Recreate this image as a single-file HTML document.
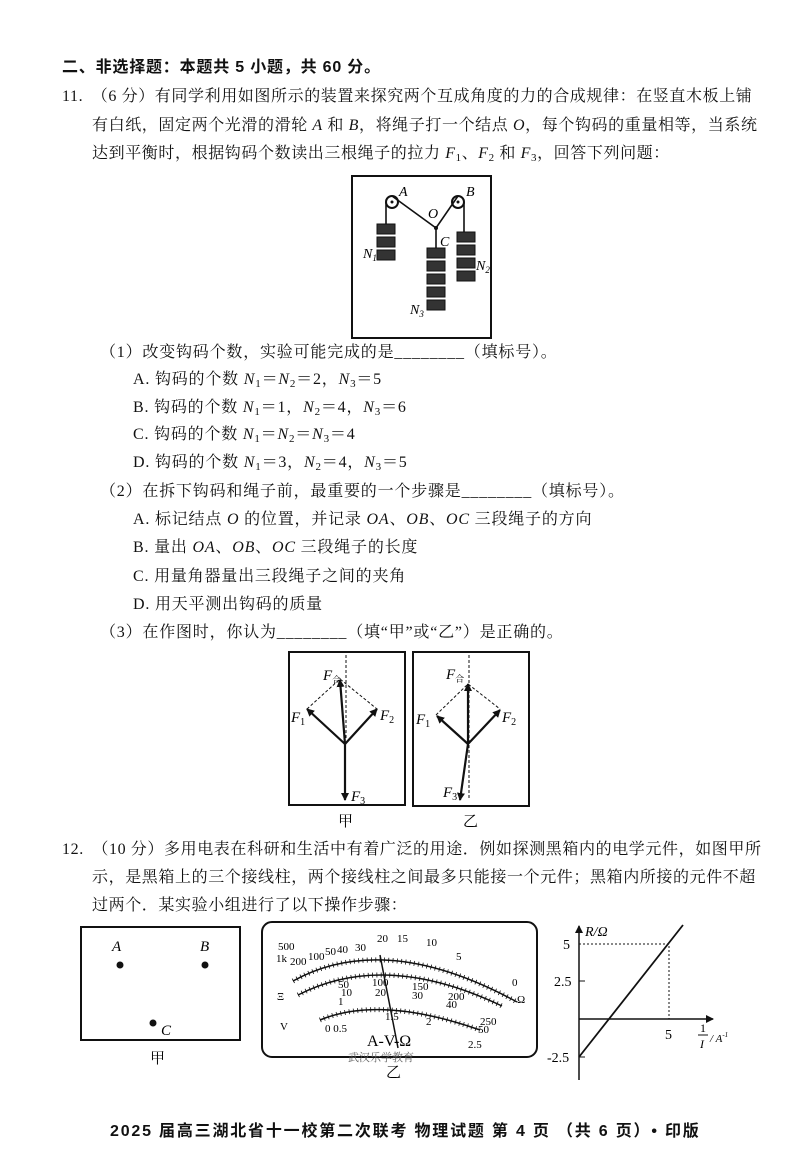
<!DOCTYPE html>
<html><head><meta charset="utf-8"><style>
body{margin:0;background:#fff;}
#p{position:relative;width:800px;height:1165px;overflow:hidden;background:#fff;font-family:"Liberation Serif","Noto Serif CJK SC","Noto Sans CJK SC",serif;color:#111;}
.t{position:absolute;font-size:16px;line-height:20px;white-space:nowrap;letter-spacing:0.8px;}
.w{letter-spacing:0.6px;}
.b{font-weight:bold;font-family:"Liberation Sans","Noto Sans CJK SC",sans-serif;}
i{font-style:italic;}
sub{font-size:11px;vertical-align:-3px;line-height:0;}
svg{position:absolute;left:0;top:0;}
</style></head><body><div id="p">
<div class="t b" style="left:62px;top:58px;">二、非选择题：本题共 5 小题，共 60 分。</div>
<div class="t w" style="left:62px;top:87px;">11.　（6 分）有同学利用如图所示的装置来探究两个互成角度的力的合成规律：在竖直木板上铺</div>
<div class="t w" style="left:92px;top:116px;">有白纸，固定两个光滑的滑轮 <i>A</i> 和 <i>B</i>，将绳子打一个结点 <i>O</i>，每个钩码的重量相等，当系统</div>
<div class="t w" style="left:92px;top:144px;">达到平衡时，根据钩码个数读出三根绳子的拉力 <i>F</i><sub>1</sub>、<i>F</i><sub>2</sub> 和 <i>F</i><sub>3</sub>，回答下列问题：</div>
<div class="t" style="left:100px;top:343px;">（1）改变钩码个数，实验可能完成的是________（填标号）。</div>
<div class="t" style="left:133px;top:370px;">A. 钩码的个数 <i>N</i><sub>1</sub>＝<i>N</i><sub>2</sub>＝2，<i>N</i><sub>3</sub>＝5</div>
<div class="t" style="left:133px;top:398px;">B. 钩码的个数 <i>N</i><sub>1</sub>＝1，<i>N</i><sub>2</sub>＝4，<i>N</i><sub>3</sub>＝6</div>
<div class="t" style="left:133px;top:425px;">C. 钩码的个数 <i>N</i><sub>1</sub>＝<i>N</i><sub>2</sub>＝<i>N</i><sub>3</sub>＝4</div>
<div class="t" style="left:133px;top:453px;">D. 钩码的个数 <i>N</i><sub>1</sub>＝3，<i>N</i><sub>2</sub>＝4，<i>N</i><sub>3</sub>＝5</div>
<div class="t" style="left:100px;top:482px;">（2）在拆下钩码和绳子前，最重要的一个步骤是________（填标号）。</div>
<div class="t" style="left:133px;top:510px;">A. 标记结点 <i>O</i> 的位置，并记录 <i>OA</i>、<i>OB</i>、<i>OC</i> 三段绳子的方向</div>
<div class="t" style="left:133px;top:538px;">B. 量出 <i>OA</i>、<i>OB</i>、<i>OC</i> 三段绳子的长度</div>
<div class="t" style="left:133px;top:567px;">C. 用量角器量出三段绳子之间的夹角</div>
<div class="t" style="left:133px;top:595px;">D. 用天平测出钩码的质量</div>
<div class="t" style="left:100px;top:623px;">（3）在作图时，你认为________（填“甲”或“乙”）是正确的。</div>
<div class="t w" style="left:62px;top:840px;">12.　（10 分）多用电表在科研和生活中有着广泛的用途．例如探测黑箱内的电学元件，如图甲所</div>
<div class="t w" style="left:92px;top:868px;">示，是黑箱上的三个接线柱，两个接线柱之间最多只能接一个元件；黑箱内所接的元件不超</div>
<div class="t w" style="left:92px;top:896px;">过两个．某实验小组进行了以下操作步骤：</div>
<div class="t b" style="left:110px;top:1122px;font-size:16px;letter-spacing:1.8px;">2025 届高三湖北省十一校第二次联考 物理试题 第 4 页 （共 6 页）• 印版</div>

<svg width="800" height="1165" viewBox="0 0 800 1165" font-family="Liberation Serif, Noto Serif CJK SC, serif">
<defs><marker id="ar" markerWidth="8" markerHeight="8" refX="7" refY="4" orient="auto" markerUnits="userSpaceOnUse"><path d="M0,0 L8,4 L0,8 Z" fill="#111"/></marker></defs>
<rect x="352" y="176" width="139" height="162" fill="none" stroke="#111" stroke-width="2"/>
<circle cx="392" cy="202" r="6" fill="none" stroke="#111" stroke-width="2"/><circle cx="392" cy="202" r="1.5" fill="#111"/>
<circle cx="458" cy="202" r="6" fill="none" stroke="#111" stroke-width="2"/><circle cx="458" cy="202" r="1.5" fill="#111"/>
<path d="M392,196 L436,228 L458,196 M386,202 V224 M464,202 V232 M436,228 V248" stroke="#111" stroke-width="1.6" fill="none"/>
<circle cx="436" cy="228" r="2" fill="#111"/>
<g fill="#333" stroke="#111">
<rect x="377" y="224" width="18" height="10"/><rect x="377" y="237" width="18" height="10"/><rect x="377" y="250" width="18" height="10"/>
<rect x="457" y="232" width="18" height="10"/><rect x="457" y="245" width="18" height="10"/><rect x="457" y="258" width="18" height="10"/><rect x="457" y="271" width="18" height="10"/>
<rect x="427" y="248" width="18" height="10"/><rect x="427" y="261" width="18" height="10"/><rect x="427" y="274" width="18" height="10"/><rect x="427" y="287" width="18" height="10"/><rect x="427" y="300" width="18" height="10"/>
</g>
<g font-style="italic" font-size="14">
<text x="399" y="196">A</text><text x="466" y="196">B</text><text x="428" y="218">O</text><text x="440" y="246">C</text>
<text x="363" y="258">N<tspan font-size="9" dy="3">1</tspan></text>
<text x="476" y="270">N<tspan font-size="9" dy="3">2</tspan></text>
<text x="410" y="314">N<tspan font-size="9" dy="3">3</tspan></text>
</g>
<rect x="289" y="652" width="116" height="153" fill="none" stroke="#111" stroke-width="2"/>
<rect x="413" y="652" width="116" height="154" fill="none" stroke="#111" stroke-width="2"/>
<g stroke="#111" stroke-dasharray="3,2" stroke-width="1" fill="none">
<path d="M346,655 V740 M307,709 L340,679 L377,709"/>
<path d="M469,655 V800 M436,715 L468,684 L500,709"/>
</g>
<g stroke="#111" stroke-width="2.2" marker-end="url(#ar)">
<line x1="345" y1="744" x2="307" y2="709"/><line x1="345" y1="744" x2="377" y2="709"/>
<line x1="345" y1="744" x2="340" y2="680"/><line x1="345" y1="744" x2="345" y2="800"/>
<line x1="468" y1="744" x2="437" y2="716"/><line x1="468" y1="744" x2="500" y2="710"/>
<line x1="468" y1="744" x2="468" y2="684"/><line x1="468" y1="744" x2="460" y2="800"/>
</g>
<g font-style="italic" font-size="15">
<text x="323" y="680">F<tspan font-size="9" font-style="normal" dy="3">合</tspan></text>
<text x="291" y="722">F<tspan font-size="10" font-style="normal" dy="3">1</tspan></text>
<text x="380" y="720">F<tspan font-size="10" font-style="normal" dy="3">2</tspan></text>
<text x="351" y="801">F<tspan font-size="10" font-style="normal" dy="3">3</tspan></text>
<text x="446" y="679">F<tspan font-size="9" font-style="normal" dy="3">合</tspan></text>
<text x="416" y="724">F<tspan font-size="10" font-style="normal" dy="3">1</tspan></text>
<text x="502" y="722">F<tspan font-size="10" font-style="normal" dy="3">2</tspan></text>
<text x="443" y="797">F<tspan font-size="10" font-style="normal" dy="3">3</tspan></text>
</g>
<text x="338" y="826" font-size="15">甲</text><text x="463" y="826" font-size="15">乙</text>
<rect x="81" y="927" width="159" height="113" fill="none" stroke="#111" stroke-width="2"/>
<g font-style="italic" font-size="15"><text x="112" y="951">A</text><text x="200" y="951">B</text><text x="161" y="1035">C</text></g>
<circle cx="120" cy="965" r="3.5" fill="#111"/><circle cx="205" cy="965" r="3.5" fill="#111"/><circle cx="153" cy="1023" r="3.5" fill="#111"/>
<text x="150" y="1063" font-size="15">甲</text>
<rect x="262" y="922" width="275" height="135" rx="10" fill="none" stroke="#111" stroke-width="2"/>
<path d="M293,981 Q385,930 517,1002" fill="none" stroke="#111" stroke-width="1.5"/>
<path d="M298,995 Q385,950 502,1006" fill="none" stroke="#111" stroke-width="1.5"/>
<path d="M320,1020 Q380,995 480,1030" fill="none" stroke="#111" stroke-width="1.5"/>
<path d="M293,981 Q385,930 517,1002" fill="none" stroke="#111" stroke-width="5" stroke-dasharray="0.8,3.5"/>
<path d="M298,995 Q385,950 502,1006" fill="none" stroke="#111" stroke-width="5" stroke-dasharray="0.8,3.5"/>
<path d="M320,1020 Q380,995 480,1030" fill="none" stroke="#111" stroke-width="5" stroke-dasharray="0.8,3.5"/>
<line x1="380" y1="955" x2="398" y2="1048" stroke="#111" stroke-width="1.5"/>
<g font-size="11">
<text x="278" y="950">500</text><text x="276" y="962">1k</text><text x="290" y="965">200</text><text x="308" y="960">100</text><text x="325" y="955">50</text><text x="337" y="953">40</text><text x="355" y="951">30</text><text x="377" y="942">20</text><text x="397" y="942">15</text><text x="426" y="946">10</text><text x="456" y="960">5</text><text x="512" y="986">0</text><text x="517" y="1003">Ω</text>
<text x="338" y="988">50</text><text x="341" y="996">10</text><text x="372" y="986">100</text><text x="375" y="996">20</text><text x="412" y="990">150</text><text x="412" y="999">30</text><text x="448" y="1000">200</text><text x="446" y="1008">40</text><text x="480" y="1025">250</text><text x="478" y="1033">50</text>
<text x="338" y="1005">1</text><text x="385" y="1020">1.5</text><text x="426" y="1025">2</text><text x="468" y="1048">2.5</text>
<text x="325" y="1032">0 0.5</text><text x="277" y="1000">Ξ</text><text x="280" y="1030">V</text>
</g>
<text x="367" y="1046" font-size="16">A-V-Ω</text>
<text x="348" y="1061" font-size="11" fill="#666">武汉乐学教育</text>
<text x="386" y="1077" font-size="15">乙</text>
<line x1="579" y1="1080" x2="579" y2="926" stroke="#111" stroke-width="1.5" marker-end="url(#ar)"/>
<line x1="579" y1="1019" x2="713" y2="1019" stroke="#111" stroke-width="1.5" marker-end="url(#ar)"/>
<path d="M579,944 H669 V1019" fill="none" stroke="#111" stroke-dasharray="2,2"/>
<line x1="579" y1="1057" x2="683" y2="925" stroke="#111" stroke-width="1.8"/>
<line x1="579" y1="981" x2="585" y2="981" stroke="#111"/><line x1="579" y1="1057" x2="585" y2="1057" stroke="#111"/>
<g font-size="14">
<text x="585" y="936" font-style="italic">R/Ω</text>
<text x="563" y="949">5</text><text x="554" y="986">2.5</text><text x="547" y="1062">-2.5</text><text x="665" y="1039">5</text>
<text x="700" y="1032" font-size="12">1</text><line x1="698" y1="1035" x2="708" y2="1035" stroke="#111"/><text x="700" y="1048" font-size="12" font-style="italic">I</text><text x="710" y="1042" font-size="11" font-style="italic">/ A<tspan font-size="7" dy="-5">-1</tspan></text>
</g>
</svg>
</div></body></html>
